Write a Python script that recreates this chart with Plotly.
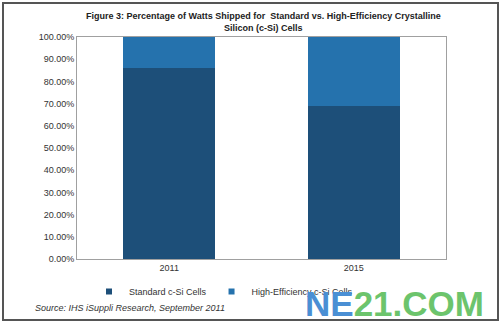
import plotly.graph_objects as go

years = ["2011", "2015"]
standard = [0.86, 0.69]
high_eff = [0.14, 0.31]
y_ticks = [0, 0.1, 0.2, 0.3, 0.4, 0.5, 0.6, 0.7, 0.8, 0.9, 1.0]
series_names = ["Standard c-Si Cells", "High-Efficiency c-Si Cells"]
series_colors = ["#1d4f79", "#2572ad"]

W, H = 502, 323
L, R, T, B = 77, 56, 37, 64
pw, ph = W - L - R, H - T - B

def px(x):
    return (x - L) / pw

def py(y):
    return (H - B - y) / ph

fig = go.Figure()
for vals, name, color in zip([standard, high_eff], series_names, series_colors):
    fig.add_trace(go.Bar(x=years, y=vals, name=name, showlegend=False,
                         marker=dict(color=color, line=dict(width=0))))
# small square swatches for the legend
for name, color in zip(series_names, series_colors):
    fig.add_trace(go.Scatter(x=[None], y=[None], mode="markers", name=name,
                             marker=dict(symbol="square", size=6, color=color)))

font = "Liberation Sans, Arial, sans-serif"
fig.update_layout(
    width=W, height=H,
    margin=dict(l=L, r=R, t=T, b=B),
    barmode="stack", bargap=0.5,
    paper_bgcolor="white", plot_bgcolor="white",
    font=dict(family=font, size=9, color="#333333"),
    showlegend=True,
    legend=dict(orientation="h", x=px(89), y=py(277), xanchor="left", yanchor="top",
                font=dict(size=9, color="#333333"), itemwidth=30, traceorder="normal",
                bgcolor="rgba(0,0,0,0)"),
    xaxis=dict(showline=True, linecolor="#a0a0a0", linewidth=1, mirror=True,
               ticks="", tickfont=dict(size=9, color="#333333")),
    yaxis=dict(range=[0, 1], tickvals=y_ticks, tickformat=".2%", showgrid=False,
               showline=True, linecolor="#a0a0a0", linewidth=1, mirror=True,
               ticks="", zeroline=False, tickfont=dict(size=9, color="#333333")),
    shapes=[dict(type="rect", xref="paper", yref="paper",
                 x0=px(3), x1=px(498), y0=py(320), y1=py(3),
                 line=dict(color="#555555", width=2))],
    annotations=[
        dict(text="<b>Figure 3: Percentage of Watts Shipped for  Standard vs. High-Efficiency Crystalline<br>Silicon (c-Si) Cells</b>",
             xref="paper", yref="paper", x=px(263), y=py(22),
             xanchor="center", yanchor="middle", showarrow=False,
             font=dict(size=9, color="#222222")),
        dict(text="<i>Source: IHS iSuppli Research, September 2011</i>",
             xref="paper", yref="paper", x=px(33), y=py(308),
             xanchor="left", yanchor="middle", showarrow=False,
             font=dict(size=9, color="#333333")),
        dict(text="<b><span style='color:#4a8fd4'>NE</span><span style='color:#6cc46c'>21.COM</span></b>",
             xref="paper", yref="paper", x=px(394), y=py(303),
             xanchor="center", yanchor="middle", showarrow=False,
             font=dict(size=35, family=font)),
    ],
)

fig.write_html("out.html")
